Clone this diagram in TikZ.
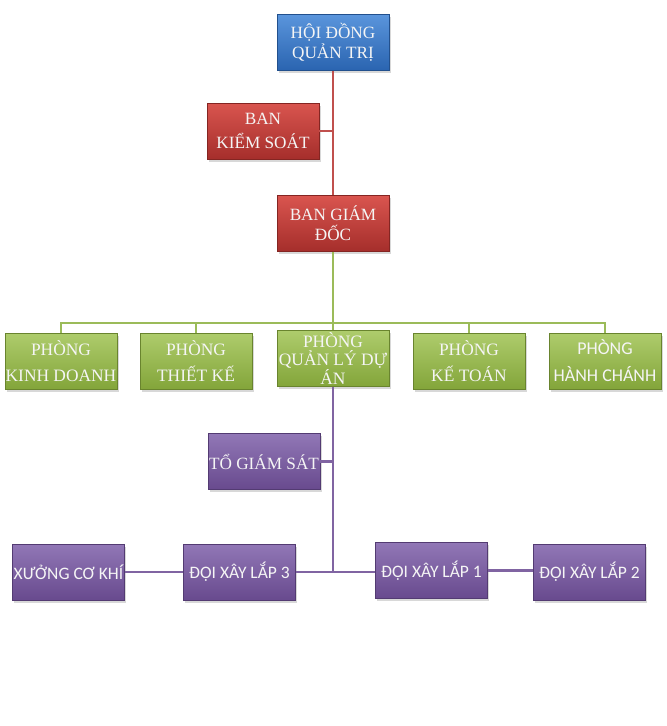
\documentclass[tikz,border=0pt]{standalone}
\usepackage{fontspec}
\setmainfont{Liberation Serif}
\newfontfamily\calfont{Carlito}
\usetikzlibrary{shadows}
\definecolor{bluetop}{HTML}{5A95DC}
\definecolor{bluebot}{HTML}{2A64B0}
\definecolor{redtop}{HTML}{D9554F}
\definecolor{redbot}{HTML}{A52E2B}
\definecolor{greentop}{HTML}{AECC6C}
\definecolor{greenbot}{HTML}{83A53A}
\definecolor{purptop}{HTML}{9177B6}
\definecolor{purpbot}{HTML}{684A8E}
\definecolor{redline}{HTML}{C0504D}
\definecolor{greenline}{HTML}{9BBB59}
\definecolor{purpline}{HTML}{8064A2}
\tikzset{
  box/.style={rectangle, minimum width=112pt, minimum height=56pt, inner sep=0pt,
    align=center, text=white!96!black, font=\fontsize{17.2}{20}\selectfont,
    drop shadow={shadow xshift=1.5pt, shadow yshift=-2.5pt, opacity=.3}},
  bluebox/.style={box, top color=bluetop, bottom color=bluebot, draw=bluebot!80!black, line width=0.4pt},
  redbox/.style={box, top color=redtop, bottom color=redbot, draw=redbot!80!black, line width=0.4pt},
  greenbox/.style={box, top color=greentop, bottom color=greenbot, draw=greenbot!80!black, line width=0.4pt},
  purpbox/.style={box, top color=purptop, bottom color=purpbot, draw=purpbot!80!black, line width=0.4pt},
  sansbox/.style={font=\calfont\fontsize{17.5}{22}\selectfont},
  link/.style={line width=2.4pt}
}
\begin{document}
\begin{tikzpicture}[x=1pt,y=-1pt]
\useasboundingbox[fill=white] (0,0) rectangle (667,726);
\coordinate (gbus) at (333,323);
\coordinate (pj) at (333,572);
% nodes
\node[bluebox] (hdqt) at (333,42.5) {HỘI ĐỒNG\\QUẢN TRỊ};
\node[redbox, font=\fontsize{17.2}{24}\selectfont] (bks) at (263,131) {BAN\\KIỂM SOÁT};
\node[redbox] (bgd) at (333,223.5) {BAN GIÁM\\ĐỐC};
\node[greenbox, font=\fontsize{17.4}{26}\selectfont] (kd) at (61,361) {PHÒNG\\KINH DOANH};
\node[greenbox, font=\fontsize{17.4}{26}\selectfont] (tk) at (196,361) {PHÒNG\\THIẾT KẾ};
\node[greenbox, font=\fontsize{17.4}{18.5}\selectfont] (qlda) at (333,358.5) {PHÒNG\\QUẢN LÝ DỰ\\ÁN};
\node[greenbox, font=\fontsize{17.4}{26}\selectfont] (kt) at (469,361) {PHÒNG\\KẾ TOÁN};
\node[greenbox, font=\calfont\fontsize{18}{27}\selectfont] (hc) at (605,361) {PHÒNG\\HÀNH CHÁNH};
\node[purpbox] (tgs) at (264,461.5) {TỔ GIÁM SÁT};
\node[purpbox, sansbox] (xck) at (68.5,572) {XƯỞNG CƠ KHÍ};
\node[purpbox, sansbox] (d3) at (239.5,572) {ĐỘI XÂY LẮP 3};
\node[purpbox, sansbox] (d1) at (431.5,570.5) {ĐỘI XÂY LẮP 1};
\node[purpbox, sansbox] (d2) at (589.5,572) {ĐỘI XÂY LẮP 2};
% red
\draw[link, redline] (hdqt.south) -- (bgd.north);
\draw[link, redline] (bks.east) -- (bks.east -| hdqt.south);
% green
\draw[link, greenline] (bgd.south) -- (gbus);
\draw[link, greenline] (kd.north) -- (kd.north |- gbus) -- (hc.north |- gbus) -- (hc.north);
\draw[link, greenline] (tk.north) -- (tk.north |- gbus);
\draw[link, greenline] (kt.north) -- (kt.north |- gbus);
\draw[link, greenline] (qlda.north) -- (gbus);
% purple
\draw[link, purpline] (qlda.south) -- (pj);
\draw[link, purpline] (tgs.east) -- (tgs.east -| qlda.south);
\draw[link, purpline] (d3.east) -- (pj) -- (pj -| d1.west);
\draw[link, purpline] (xck.east) -- (d3.west);
\draw[link, purpline] (d1.east) -- (d1.east -| d2.west);
\end{tikzpicture}
\end{document}
